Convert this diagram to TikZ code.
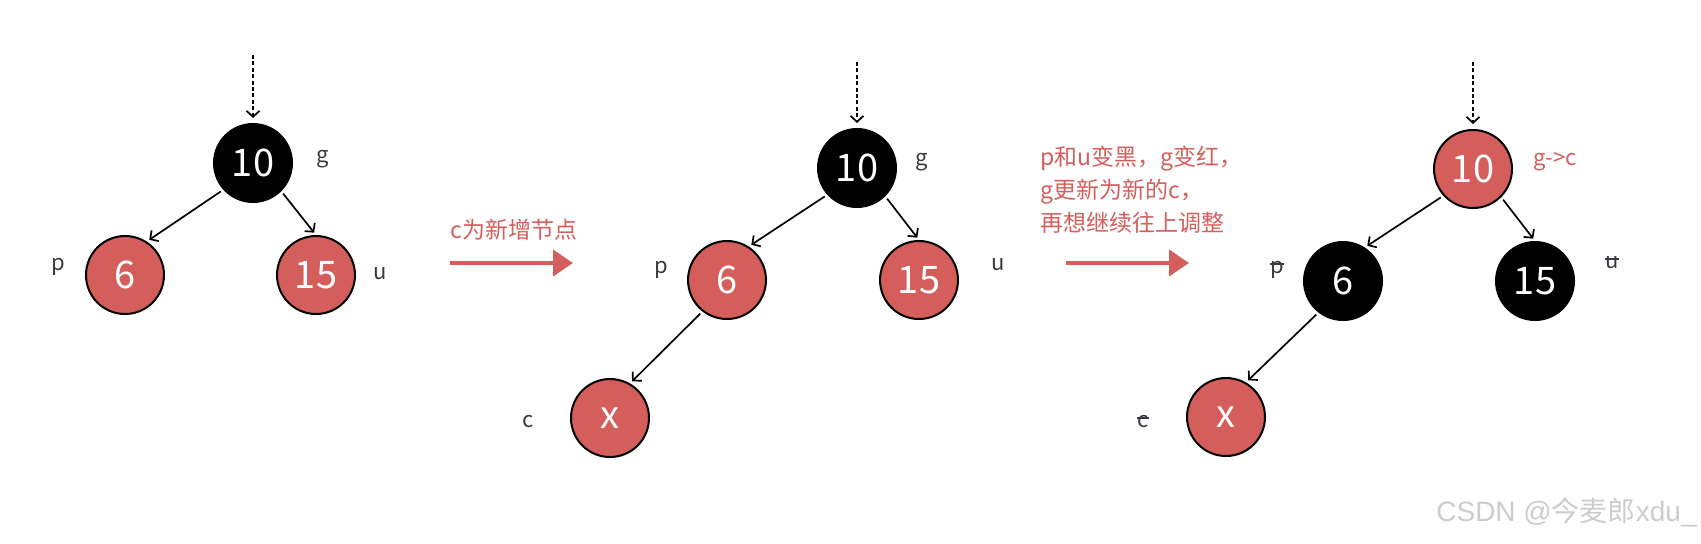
\documentclass[tikz,border=0pt]{standalone}
\usepackage{fontspec}
\setmainfont{Noto Sans CJK SC}
\newfontfamily\markfont{Liberation Sans}
\usepackage{tikz}
\usetikzlibrary{arrows.meta,positioning,calc}
\definecolor{nodered}{RGB}{212,94,91}
\definecolor{tagdark}{RGB}{55,58,62}
\tikzset{
  blacknode/.style={circle, draw=black, line width=1pt, fill=black, text=white,
                    minimum size=39pt, inner sep=0pt,
                    font=\fontsize{19}{19}\selectfont},
  rednode/.style={blacknode, fill=nodered},
  tag/.style={text=tagdark, anchor=base, inner sep=0pt,
              font=\fontsize{11}{11}\selectfont},
  treearr/.style={-{Straight Barb[length=3pt,width=6.5pt]}, line width=0.85pt,
                  shorten <=1.5pt, shorten >=1.5pt},
  enterarr/.style={treearr, dash pattern=on 2pt off 1.2pt, shorten <=0pt, shorten >=2.5pt},
  steparr/.style={-{Triangle[length=10pt,width=13pt]}, line width=2pt, nodered},
  steptxt/.style={text=nodered, inner sep=0pt, align=left,
                  font=\fontsize{11.5}{16.5}\selectfont},
  struck/.style={tagdark, line width=0.6pt}
}
\begin{document}
\begin{tikzpicture}[x=0.5pt, y=-0.5pt]
  \useasboundingbox (0,0) rectangle (1701,543);

  % before: new node not yet shown
  \node[blacknode] (g1) at (253,163) {10};
  \node[rednode]   (p1) at (125,275) {6};
  \node[rednode]   (u1) at (316,275) {15};
  \coordinate (in1) at (253,55);
  \draw[enterarr] (in1) -- (g1.north);
  \draw[treearr] (g1.222) -- (p1.57);
  \draw[treearr] (g1.-45) -- (u1.north);
  \node[tag] (g1l) at (323,162) {g};
  \node[tag] (p1l) at (58,270) {p};
  \node[tag] (u1l) at (380,279) {u};

  \coordinate (s1a) at (450,263);
  \coordinate (s1b) at (573,263);
  \draw[steparr] (s1a) -- (s1b);
  \node[steptxt, anchor=south west] (s1t) at (450,241) {c为新增节点};

  % after insertion of x
  \node[blacknode] (g2) at (857,168) {10};
  \node[rednode]   (p2) at (727,280) {6};
  \node[rednode]   (u2) at (919,280) {15};
  \node[rednode]   (c2) at (610,418) {x};
  \coordinate (in2) at (857,62);
  \draw[enterarr] (in2) -- (g2.north);
  \draw[treearr] (g2.222) -- (p2.57);
  \draw[treearr] (g2.-45) -- (u2.north);
  \draw[treearr] (p2.232) -- (c2.60);
  \node[tag] (g2l) at (922,165) {g};
  \node[tag] (p2l) at (661,273) {p};
  \node[tag] (u2l) at (998,270) {u};
  \node[tag] (c2l) at (528,427) {c};

  \coordinate (s2a) at (1066,263);
  \coordinate (s2b) at (1189,263);
  \draw[steparr] (s2a) -- (s2b);
  \node[steptxt, anchor=north west] (s2t) at (1040,146)
    {p和u变黑，g变红，\\g更新为新的c，\\再想继续往上调整};

  % after recolouring
  \node[rednode]   (g3) at (1473,169) {10};
  \node[blacknode] (p3) at (1343,281) {6};
  \node[blacknode] (u3) at (1535,281) {15};
  \node[rednode]   (c3) at (1226,417) {x};
  \coordinate (in3) at (1473,62);
  \draw[enterarr] (in3) -- (g3.north);
  \draw[treearr] (g3.222) -- (p3.57);
  \draw[treearr] (g3.-45) -- (u3.north);
  \draw[treearr] (p3.232) -- (c3.60);
  \node[tag, text=nodered] (g3l) at (1555,165) {g->c};
  \node[tag] (p3l) at (1277,273) {p};
  \node[tag] (u3l) at (1612,268) {u};
  \node[tag] (c3l) at (1143,427) {c};
  \draw[struck] ([yshift=4.5pt]p3l.base west) -- ([yshift=4.5pt]p3l.base east);
  \draw[struck] ([yshift=4.5pt]u3l.base west) -- ([yshift=4.5pt]u3l.base east);
  \draw[struck] ([yshift=4.5pt]c3l.base west) -- ([yshift=4.5pt]c3l.base east);

  \node[text=gray!40, anchor=east, inner sep=0pt, font=\fontsize{14}{14}\selectfont]
    (mark) at (1697,512) {{\markfont CSDN @}今麦郎{\markfont xdu\_}};
\end{tikzpicture}
\end{document}
